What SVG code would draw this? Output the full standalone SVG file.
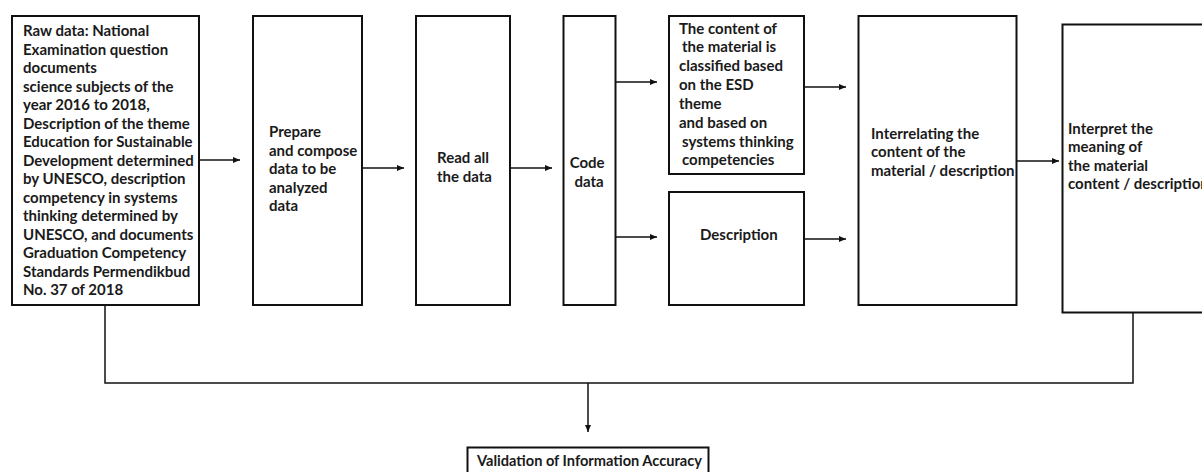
<svg xmlns="http://www.w3.org/2000/svg" width="1202" height="472" viewBox="0 0 1202 472">
<style>
.box{fill:#fff;stroke:#111;stroke-width:2}
.t{font-family:Lato,"Open Sans","Liberation Sans",sans-serif;font-weight:bold;font-size:15px;fill:#1a1a1a}
.s{font-size:14.6px}
.c{fill:none;stroke:#111;stroke-width:1.5}
</style>
<defs>
<marker id="ah" markerWidth="8" markerHeight="8" refX="7" refY="4" orient="auto" markerUnits="userSpaceOnUse">
<path d="M0,1 L7,4 L0,7 Z" fill="#111"/>
</marker>
</defs>
<g id="connectors">
<line class="c" x1="199" y1="160" x2="240" y2="160" marker-end="url(#ah)"/>
<line class="c" x1="362" y1="168" x2="404" y2="168" marker-end="url(#ah)"/>
<line class="c" x1="510" y1="168" x2="552" y2="168" marker-end="url(#ah)"/>
<line class="c" x1="616" y1="82" x2="657" y2="82" marker-end="url(#ah)"/>
<line class="c" x1="616" y1="237" x2="657" y2="237" marker-end="url(#ah)"/>
<line class="c" x1="804" y1="87" x2="846" y2="87" marker-end="url(#ah)"/>
<line class="c" x1="804" y1="239" x2="846" y2="239" marker-end="url(#ah)"/>
<line class="c" x1="1017" y1="161" x2="1059" y2="161" marker-end="url(#ah)"/>
<polyline class="c" points="105,305 105,383 1133,383 1133,313"/>
<line class="c" x1="588" y1="383" x2="588" y2="432" marker-end="url(#ah)"/>
</g>
<g id="raw-data">
<rect class="box" x="12" y="16" width="187" height="289"/>
<text class="t" x="23" y="36">
<tspan x="23" y="36">Raw data: National</tspan>
<tspan x="23" y="54.5">Examination question</tspan>
<tspan x="23" y="73">documents</tspan>
<tspan x="23" y="91.5">science subjects of the</tspan>
<tspan x="23" y="110">year 2016 to 2018,</tspan>
<tspan x="23" y="128.5">Description of the theme</tspan>
<tspan x="23" y="147">Education for Sustainable</tspan>
<tspan x="23" y="165.5">Development determined</tspan>
<tspan x="23" y="184">by UNESCO, description</tspan>
<tspan x="23" y="202.5">competency in systems</tspan>
<tspan x="23" y="221">thinking determined by</tspan>
<tspan x="23" y="239.5">UNESCO, and documents</tspan>
<tspan x="23" y="258">Graduation Competency</tspan>
<tspan x="23" y="276.5">Standards Permendikbud</tspan>
<tspan x="23" y="295">No. 37 of 2018</tspan>
</text>
</g>
<g id="prepare">
<rect class="box" x="253" y="16" width="109" height="289"/>
<text class="t">
<tspan x="269" y="137">Prepare</tspan>
<tspan x="269" y="155.5">and compose</tspan>
<tspan x="269" y="174">data to be</tspan>
<tspan x="269" y="192.5">analyzed</tspan>
<tspan x="269" y="211">data</tspan>
</text>
</g>
<g id="read">
<rect class="box" x="416" y="16" width="94" height="289"/>
<text class="t">
<tspan x="437" y="163">Read all</tspan>
<tspan x="437" y="181.5">the data</tspan>
</text>
</g>
<g id="code">
<rect class="box" x="563.5" y="16" width="52" height="289"/>
<text class="t" text-anchor="middle">
<tspan x="589" y="168">Code</tspan>
<tspan x="589" y="186.5">data</tspan>
</text>
</g>
<g id="classified">
<rect class="box" x="669" y="16" width="135" height="158"/>
<text class="t">
<tspan x="679" y="33.5">The content of</tspan>
<tspan x="682" y="52.3">the material is</tspan>
<tspan x="679" y="71">classified based</tspan>
<tspan x="679" y="90">on the ESD</tspan>
<tspan x="679" y="108.7">theme</tspan>
<tspan x="679" y="127.6">and based on</tspan>
<tspan x="682" y="146.5">systems thinking</tspan>
<tspan x="682" y="165.3">competencies</tspan>
</text>
</g>
<g id="description">
<rect class="box" x="669" y="192" width="135" height="113"/>
<text class="t" x="700" y="239.5">Description</text>
</g>
<g id="interrelating">
<rect class="box" x="858.5" y="16" width="158" height="289"/>
<text class="t">
<tspan x="871" y="138.5">Interrelating the</tspan>
<tspan x="871" y="157">content of the</tspan>
<tspan x="871" y="175.5">material / description</tspan>
</text>
</g>
<g id="interpret">
<rect class="box" x="1062.5" y="24.5" width="160" height="288"/>
<text class="t">
<tspan x="1068" y="133.5">Interpret the</tspan>
<tspan x="1068" y="152">meaning of</tspan>
<tspan x="1068" y="170.5">the material</tspan>
<tspan x="1068" y="189">content / description</tspan>
</text>
</g>
<g id="validation">
<rect class="box" x="467.5" y="447.5" width="241" height="40"/>
<text class="t s" x="477" y="466">Validation of Information Accuracy</text>
</g>
</svg>
